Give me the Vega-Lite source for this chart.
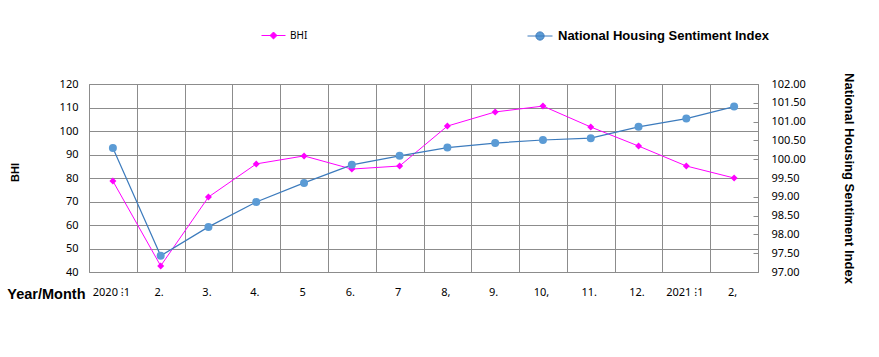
{
  "$schema": "https://vega.github.io/schema/vega-lite/v6.json",
  "autosize": "none",
  "width": 669,
  "height": 188,
  "padding": {"left": 89, "top": 84, "right": 121, "bottom": 85},
  "background": "white",
  "data": {
    "values": [
      {"Month": "2020  ⁝1", "BHI": 78.7, "NHSI": 100.30},
      {"Month": "2.", "BHI": 42.6, "NHSI": 97.43},
      {"Month": "3.", "BHI": 71.9, "NHSI": 98.20},
      {"Month": "4.", "BHI": 86.0, "NHSI": 98.86},
      {"Month": "5", "BHI": 89.4, "NHSI": 99.37},
      {"Month": "6.", "BHI": 83.8, "NHSI": 99.85},
      {"Month": "7", "BHI": 85.1, "NHSI": 100.09},
      {"Month": "8,", "BHI": 102.1, "NHSI": 100.31},
      {"Month": "9.", "BHI": 108.1, "NHSI": 100.43},
      {"Month": "10,", "BHI": 110.6, "NHSI": 100.51},
      {"Month": "11.", "BHI": 101.7, "NHSI": 100.56},
      {"Month": "12.", "BHI": 93.6, "NHSI": 100.86},
      {"Month": "2021  ⁝1", "BHI": 85.1, "NHSI": 101.08},
      {"Month": "2,", "BHI": 80.0, "NHSI": 101.40}
    ]
  },
  "encoding": {
    "x": {
      "field": "Month",
      "type": "ordinal",
      "sort": null,
      "scale": {"type": "band", "paddingInner": 0, "paddingOuter": 0},
      "axis": {
        "title": "Year/Month",
        "titleFont": "Liberation Sans",
        "titleFontSize": 14.5,
        "titleFontWeight": "bold",
        "titleColor": "#000",
        "titleAnchor": "start",
        "titleAlign": "right",
        "titleBaseline": "middle",
        "titleX": -4,
        "titleY": 22,
        "labelAngle": 0,
        "labelFont": "Noto Sans",
        "labelFontSize": 11,
        "labelColor": "#000",
        "labelPadding": 14,
        "labelOffset": -2,
        "grid": true,
        "tickBand": "extent",
        "gridColor": "#8c8c8c",
        "gridOpacity": 1,
        "ticks": false,
        "domain": false
      }
    }
  },
  "layer": [
    {
      "encoding": {
        "y": {
          "field": "BHI",
          "type": "quantitative",
          "scale": {"domain": [40, 120], "nice": false, "zero": false},
          "axis": {
            "title": "BHI",
            "values": [40, 50, 60, 70, 80, 90, 100, 110, 120],
            "titleFont": "Liberation Sans",
            "titleFontSize": 11,
            "titleFontWeight": "bold",
            "titleColor": "#000",
            "titleX": -74,
            "titleY": 88,
            "titleAngle": -90,
            "titleAlign": "center",
            "titleBaseline": "middle",
            "labelFont": "Noto Sans",
            "labelFontSize": 11,
            "labelColor": "#000",
            "labelPadding": 11,
            "grid": true,
            "gridColor": "#8c8c8c",
            "gridOpacity": 1,
            "ticks": false,
            "domain": false
          }
        }
      },
      "layer": [
        {
          "mark": {"type": "line", "strokeWidth": 1},
          "encoding": {
            "color": {
              "datum": "BHI",
              "scale": {"domain": ["BHI"], "range": ["#ff00ff"]},
              "legend": {
                "title": null,
                "orient": "none",
                "legendX": 172,
                "legendY": -61,
                "padding": 0,
                "symbolType": "M-1,0H1M0,-0.29L0.29,0L0,0.29L-0.29,0Z",
                "symbolSize": 576,
                "symbolStrokeWidth": 1,
                "symbolStrokeColor": "#ff00ff",
                "symbolFillColor": "#ff00ff",
                "labelFont": "Noto Sans",
                "labelFontSize": 10,
                "labelColor": "#000",
                "labelOffset": 4
              }
            }
          }
        },
        {
          "mark": {"type": "point", "shape": "diamond", "filled": true, "size": 49, "color": "#ff00ff", "opacity": 1}
        }
      ]
    },
    {
      "encoding": {
        "y": {
          "field": "NHSI",
          "type": "quantitative",
          "scale": {"domain": [97, 102], "nice": false, "zero": false},
          "axis": {
            "orient": "right",
            "title": "National Housing Sentiment Index",
            "values": [97, 97.5, 98, 98.5, 99, 99.5, 100, 100.5, 101, 101.5, 102],
            "format": ".2f",
            "titleFont": "Liberation Sans",
            "titleFontSize": 13,
            "titleFontWeight": "bold",
            "titleColor": "#000",
            "titleX": 90,
            "titleY": 94,
            "titleAngle": 90,
            "titleAlign": "center",
            "titleBaseline": "middle",
            "labelFont": "Noto Sans",
            "labelFontSize": 11,
            "labelColor": "#000",
            "labelPadding": 18,
            "ticks": true,
            "tickSize": -5,
            "tickColor": "#8c8c8c",
            "grid": false,
            "domain": false
          }
        }
      },
      "layer": [
        {
          "mark": {"type": "line", "strokeWidth": 1.2, "color": "#3c7bbd"},
          "encoding": {
            "color": {
              "datum": "National Housing Sentiment Index",
              "scale": {"domain": ["National Housing Sentiment Index"], "range": ["#3c7bbd"]},
              "legend": {
                "title": null,
                "orient": "none",
                "legendX": 438,
                "legendY": -61,
                "padding": 0,
                "symbolType": "M-1,0H1M-0.33,0A0.33,0.33 0 1,0 0.33,0A0.33,0.33 0 1,0 -0.33,0Z",
                "symbolSize": 625,
                "symbolStrokeWidth": 1,
                "symbolStrokeColor": "#3c7bbd",
                "symbolFillColor": "#5b9bd5",
                "labelFont": "Liberation Sans",
                "labelFontSize": 13,
                "labelFontWeight": "bold",
                "labelColor": "#000",
                "labelOffset": 5,
                "labelLimit": 400
              }
            }
          }
        },
        {
          "mark": {"type": "point", "shape": "circle", "filled": true, "size": 64, "color": "#5b9bd5", "opacity": 1}
        }
      ]
    }
  ],
  "resolve": {"scale": {"y": "independent", "color": "independent"}, "axis": {"y": "independent"}},
  "config": {
    "view": {"stroke": "#8c8c8c", "strokeWidth": 1}
  }
}
